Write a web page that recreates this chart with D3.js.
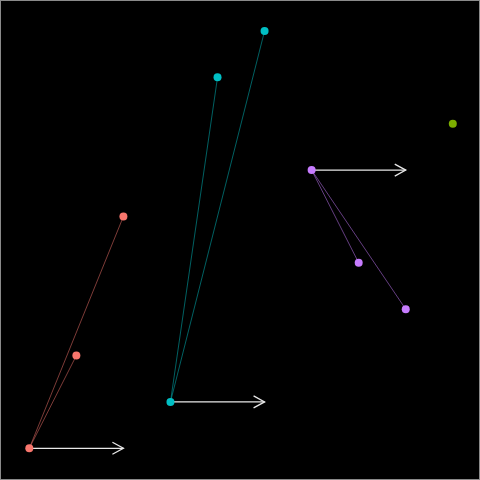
<!DOCTYPE html>
<html><head><meta charset="utf-8">
<script src="https://cdn.jsdelivr.net/npm/d3@7"></script>
<style>html,body{margin:0;padding:0;background:#000;}svg{display:block;}</style>
</head><body>
<svg id="c" width="480" height="480"></svg>
<script>
const xs = [0,1,2,3,4,5,6,7,8,9];
const ys = [0,2,5,1,8,9,6,4,3,7];
const groups = ["A","A","A","C","C","C","D","D","D","B"];
const groupNames = ["A","B","C","D"];
const groupColors = ["#F8766D","#7CAE00","#00BFC4","#C77CFF"];
const roots = [0,3,6];          // index of root point of each group with links
const arrowLen = [2,2,2];       // arrow length in x units

const svg = d3.select("#c");
const W = 480, H = 480;
svg.append("rect").attr("x",0.5).attr("y",0.5).attr("width",W-1).attr("height",H-1)
  .attr("fill","#000").attr("stroke","#8a8a8a").attr("stroke-width",1);

const x = d3.scaleLinear().domain([0,9]).range([29.3, 452.8]);
const y = d3.scaleLinear().domain([0,9]).range([448.3, 31]);
const color = d3.scaleOrdinal().domain(groupNames).range(groupColors);

const pts = xs.map((v,i)=>({x:v,y:ys[i],g:groups[i],i}));

// links
const links = [];
roots.forEach(r=>{
  pts.forEach(p=>{ if(p.g===pts[r].g && p.i!==r) links.push({s:pts[r],t:p}); });
});
svg.append("g").selectAll("line").data(links).join("line")
  .attr("x1",d=>x(d.s.x)).attr("y1",d=>y(d.s.y))
  .attr("x2",d=>x(d.t.x)).attr("y2",d=>y(d.t.y))
  .attr("stroke",d=>color(d.s.g)).attr("stroke-opacity",0.5).attr("stroke-width",1);

// arrows
const ag = svg.append("g");
roots.forEach((r,k)=>{
  const p = pts[r];
  const x0 = x(p.x), x1 = x(p.x+arrowLen[k]), yy = y(p.y);
  ag.append("line").attr("x1",x0).attr("y1",yy).attr("x2",x1).attr("y2",yy)
    .attr("stroke","#e8e8e8").attr("stroke-width",1.3);
  ag.append("path")
    .attr("d",`M${x1-11},${yy-6}L${x1},${yy}L${x1-11},${yy+6}`)
    .attr("fill","none").attr("stroke","#e8e8e8").attr("stroke-width",1.3);
});

// points
svg.append("g").selectAll("circle").data(pts).join("circle")
  .attr("cx",d=>x(d.x)).attr("cy",d=>y(d.y)).attr("r",4)
  .attr("fill",d=>color(d.g));
</script>
</body></html>
